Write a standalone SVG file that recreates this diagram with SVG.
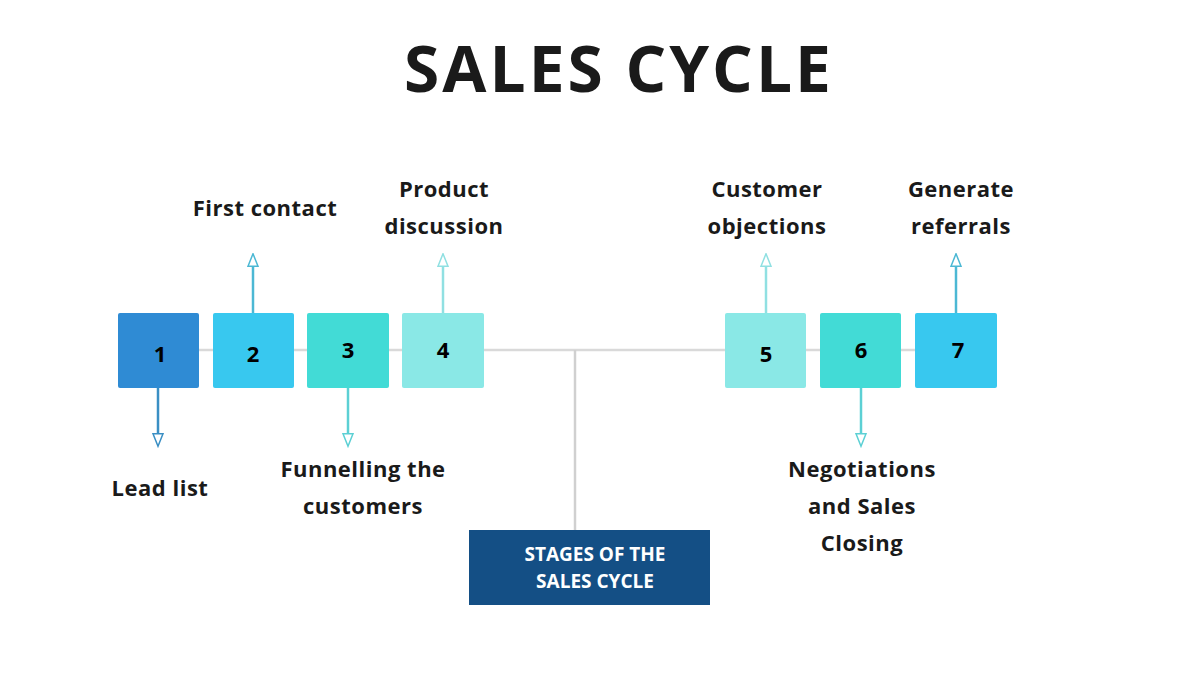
<svg xmlns="http://www.w3.org/2000/svg" width="1200" height="675" viewBox="0 0 1200 675">
<style>
text{font-family:"Open Sans","DejaVu Sans",sans-serif;font-weight:bold;fill:#1a1a1a}
.lbl{font-size:22px;text-anchor:middle;letter-spacing:0.5px}
.num{font-size:22px;text-anchor:middle;fill:#000}
.conn line{stroke-width:2.5;fill:none}
</style>
<defs>
<marker id="ah" viewBox="0 0 12 10" refX="6" refY="5" markerWidth="6" markerHeight="5" orient="auto" markerUnits="strokeWidth"><path d="M1,1 L11,5 L1,9 Z" fill="#fff" stroke="context-stroke" stroke-width="1.2"/></marker>
</defs>
<rect width="1200" height="675" fill="#fff"/>
<text x="619" y="92" font-size="64" text-anchor="middle" font-weight="900" letter-spacing="3">SALES CYCLE</text>
<g class="conn">
<line x1="199" y1="350" x2="725" y2="350" stroke="#d9d9d9" stroke-width="2"/>
<line x1="806" y1="350" x2="915" y2="350" stroke="#d9d9d9" stroke-width="2"/>
<line x1="575" y1="350" x2="575" y2="530" stroke="#d0d0d0" stroke-width="2"/>
<line x1="158" y1="388" x2="158" y2="440" stroke="#3a8fc4" marker-end="url(#ah)"/>
<line x1="253" y1="313" x2="253" y2="260" stroke="#4cb8d4" marker-end="url(#ah)"/>
<line x1="348" y1="388" x2="348" y2="440" stroke="#5cd0d4" marker-end="url(#ah)"/>
<line x1="443" y1="313" x2="443" y2="260" stroke="#90e0e2" marker-end="url(#ah)"/>
<line x1="766" y1="313" x2="766" y2="260" stroke="#90e0e2" marker-end="url(#ah)"/>
<line x1="861" y1="388" x2="861" y2="440" stroke="#5cd0d4" marker-end="url(#ah)"/>
<line x1="956" y1="313" x2="956" y2="260" stroke="#4cb8d4" marker-end="url(#ah)"/>
</g>
<g id="n1"><rect x="118" y="313" width="81" height="75" rx="2" fill="#2f8bd4"/><text class="num" x="160" y="362">1</text></g>
<g id="n2"><rect x="213" y="313" width="81" height="75" rx="2" fill="#38c8ef"/><text class="num" x="253" y="362">2</text></g>
<g id="n3"><rect x="307" y="313" width="82" height="75" rx="2" fill="#42dbd6"/><text class="num" x="348" y="358">3</text></g>
<g id="n4"><rect x="402" y="313" width="82" height="75" rx="2" fill="#8ae8e6"/><text class="num" x="443" y="358">4</text></g>
<g id="n5"><rect x="725" y="313" width="81" height="75" rx="2" fill="#8ae8e6"/><text class="num" x="766" y="362">5</text></g>
<g id="n6"><rect x="820" y="313" width="81" height="75" rx="2" fill="#42dbd6"/><text class="num" x="861" y="358">6</text></g>
<g id="n7"><rect x="915" y="313" width="82" height="75" rx="2" fill="#38c8ef"/><text class="num" x="958" y="358">7</text></g>
<g id="center"><rect x="469" y="530" width="241" height="75" fill="#144f85"/>
<text x="595" y="561" font-size="19" text-anchor="middle" fill="#fff" style="fill:#fff">STAGES OF THE</text>
<text x="595" y="588" font-size="19" text-anchor="middle" style="fill:#fff">SALES CYCLE</text></g>
<g id="labels">
<text class="lbl" x="160" y="496">Lead list</text>
<text class="lbl" x="265" y="216">First contact</text>
<text class="lbl" x="363" y="477">Funnelling the</text>
<text class="lbl" x="363" y="514">customers</text>
<text class="lbl" x="444" y="197">Product</text>
<text class="lbl" x="444" y="234">discussion</text>
<text class="lbl" x="767" y="197">Customer</text>
<text class="lbl" x="767" y="234">objections</text>
<text class="lbl" x="862" y="477">Negotiations</text>
<text class="lbl" x="862" y="514">and Sales</text>
<text class="lbl" x="862" y="551">Closing</text>
<text class="lbl" x="961" y="197">Generate</text>
<text class="lbl" x="961" y="234">referrals</text>
</g>
</svg>
